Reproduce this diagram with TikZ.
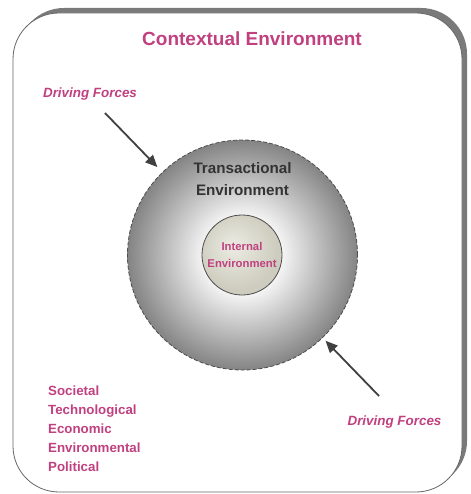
\documentclass[tikz,border=0pt]{standalone}
\usepackage{fontspec}
\setmainfont{Liberation Sans}
\usetikzlibrary{arrows.meta,shadings}
\definecolor{mag}{RGB}{192,64,128}
\definecolor{arrowgray}{RGB}{64,64,64}
\definecolor{innerlight}{RGB}{236,236,228}
\definecolor{innerdark}{RGB}{205,204,190}
\definecolor{transedge}{RGB}{132,132,132}
\pgfdeclareradialshading{transshade}{\pgfpoint{0bp}{0bp}}{color(0bp)=(white); color(7bp)=(white); color(25bp)=(transedge); color(50bp)=(transedge)}
\pgfdeclareradialshading{innershade}{\pgfpoint{-6bp}{6bp}}{color(0bp)=(innerlight); color(25bp)=(innerdark); color(50bp)=(innerdark)}
\tikzset{
  magtext/.style={text=mag, font=\bfseries\fontsize{13.3}{19}\selectfont, inner sep=0pt},
  forcetext/.style={text=mag, font=\bfseries\itshape\fontsize{13.4}{16}\selectfont, inner sep=0pt},
  farrow/.style={draw=arrowgray, line width=1.8pt, -{Triangle[length=12pt,width=10.5pt]}},
}
\begin{document}
\begin{tikzpicture}[x=1pt,y=-1pt]
\useasboundingbox (0,0) rectangle (470,494);
% frame with shadow
\fill[black!52, rounded corners=46pt] (18,8) rectangle (467,487);
\draw[black!60, fill=white, rounded corners=46pt, line width=0.8pt] (13,13) rectangle (462,492);
% title
\node[text=mag, font=\bfseries\fontsize{19}{22}\selectfont, inner sep=0pt] (ctx) at (252,39) {Contextual Environment};
% transactional circle
\node[circle, minimum size=230pt, inner sep=0pt, draw=black!70, line width=0.8pt, dash pattern=on 4pt off 2pt, shade, shading=transshade] (trans) at (242.5,255) {};
\node[text=black!80, font=\bfseries\fontsize{15.2}{22}\selectfont, align=center, inner sep=0pt] (transtxt) at (242.5,179) {Transactional\\Environment};
% internal circle
\node[circle, minimum size=80pt, inner sep=0pt, draw=black!70, line width=0.8pt, shade, shading=innershade] (int) at (242,255) {};
\node[text=mag, font=\bfseries\fontsize{11.3}{16.5}\selectfont, align=center, inner sep=0pt] (inttxt) at (242,255) {Internal\\Environment};
% driving forces
\node[forcetext] (df1) at (90,94) {Driving Forces};
\node[forcetext] (df2) at (394.5,422) {Driving Forces};
\coordinate (t1) at (105,113);
\coordinate (t2) at (379,396);
\draw[farrow, shorten >=7pt] (t1) -- (trans);
\draw[farrow, shorten >=4pt] (t2) -- (trans);
% list
\node[magtext, align=left, anchor=west] (list) at (48,429) {Societal\\Technological\\Economic\\Environmental\\Political};
\end{tikzpicture}
\end{document}
